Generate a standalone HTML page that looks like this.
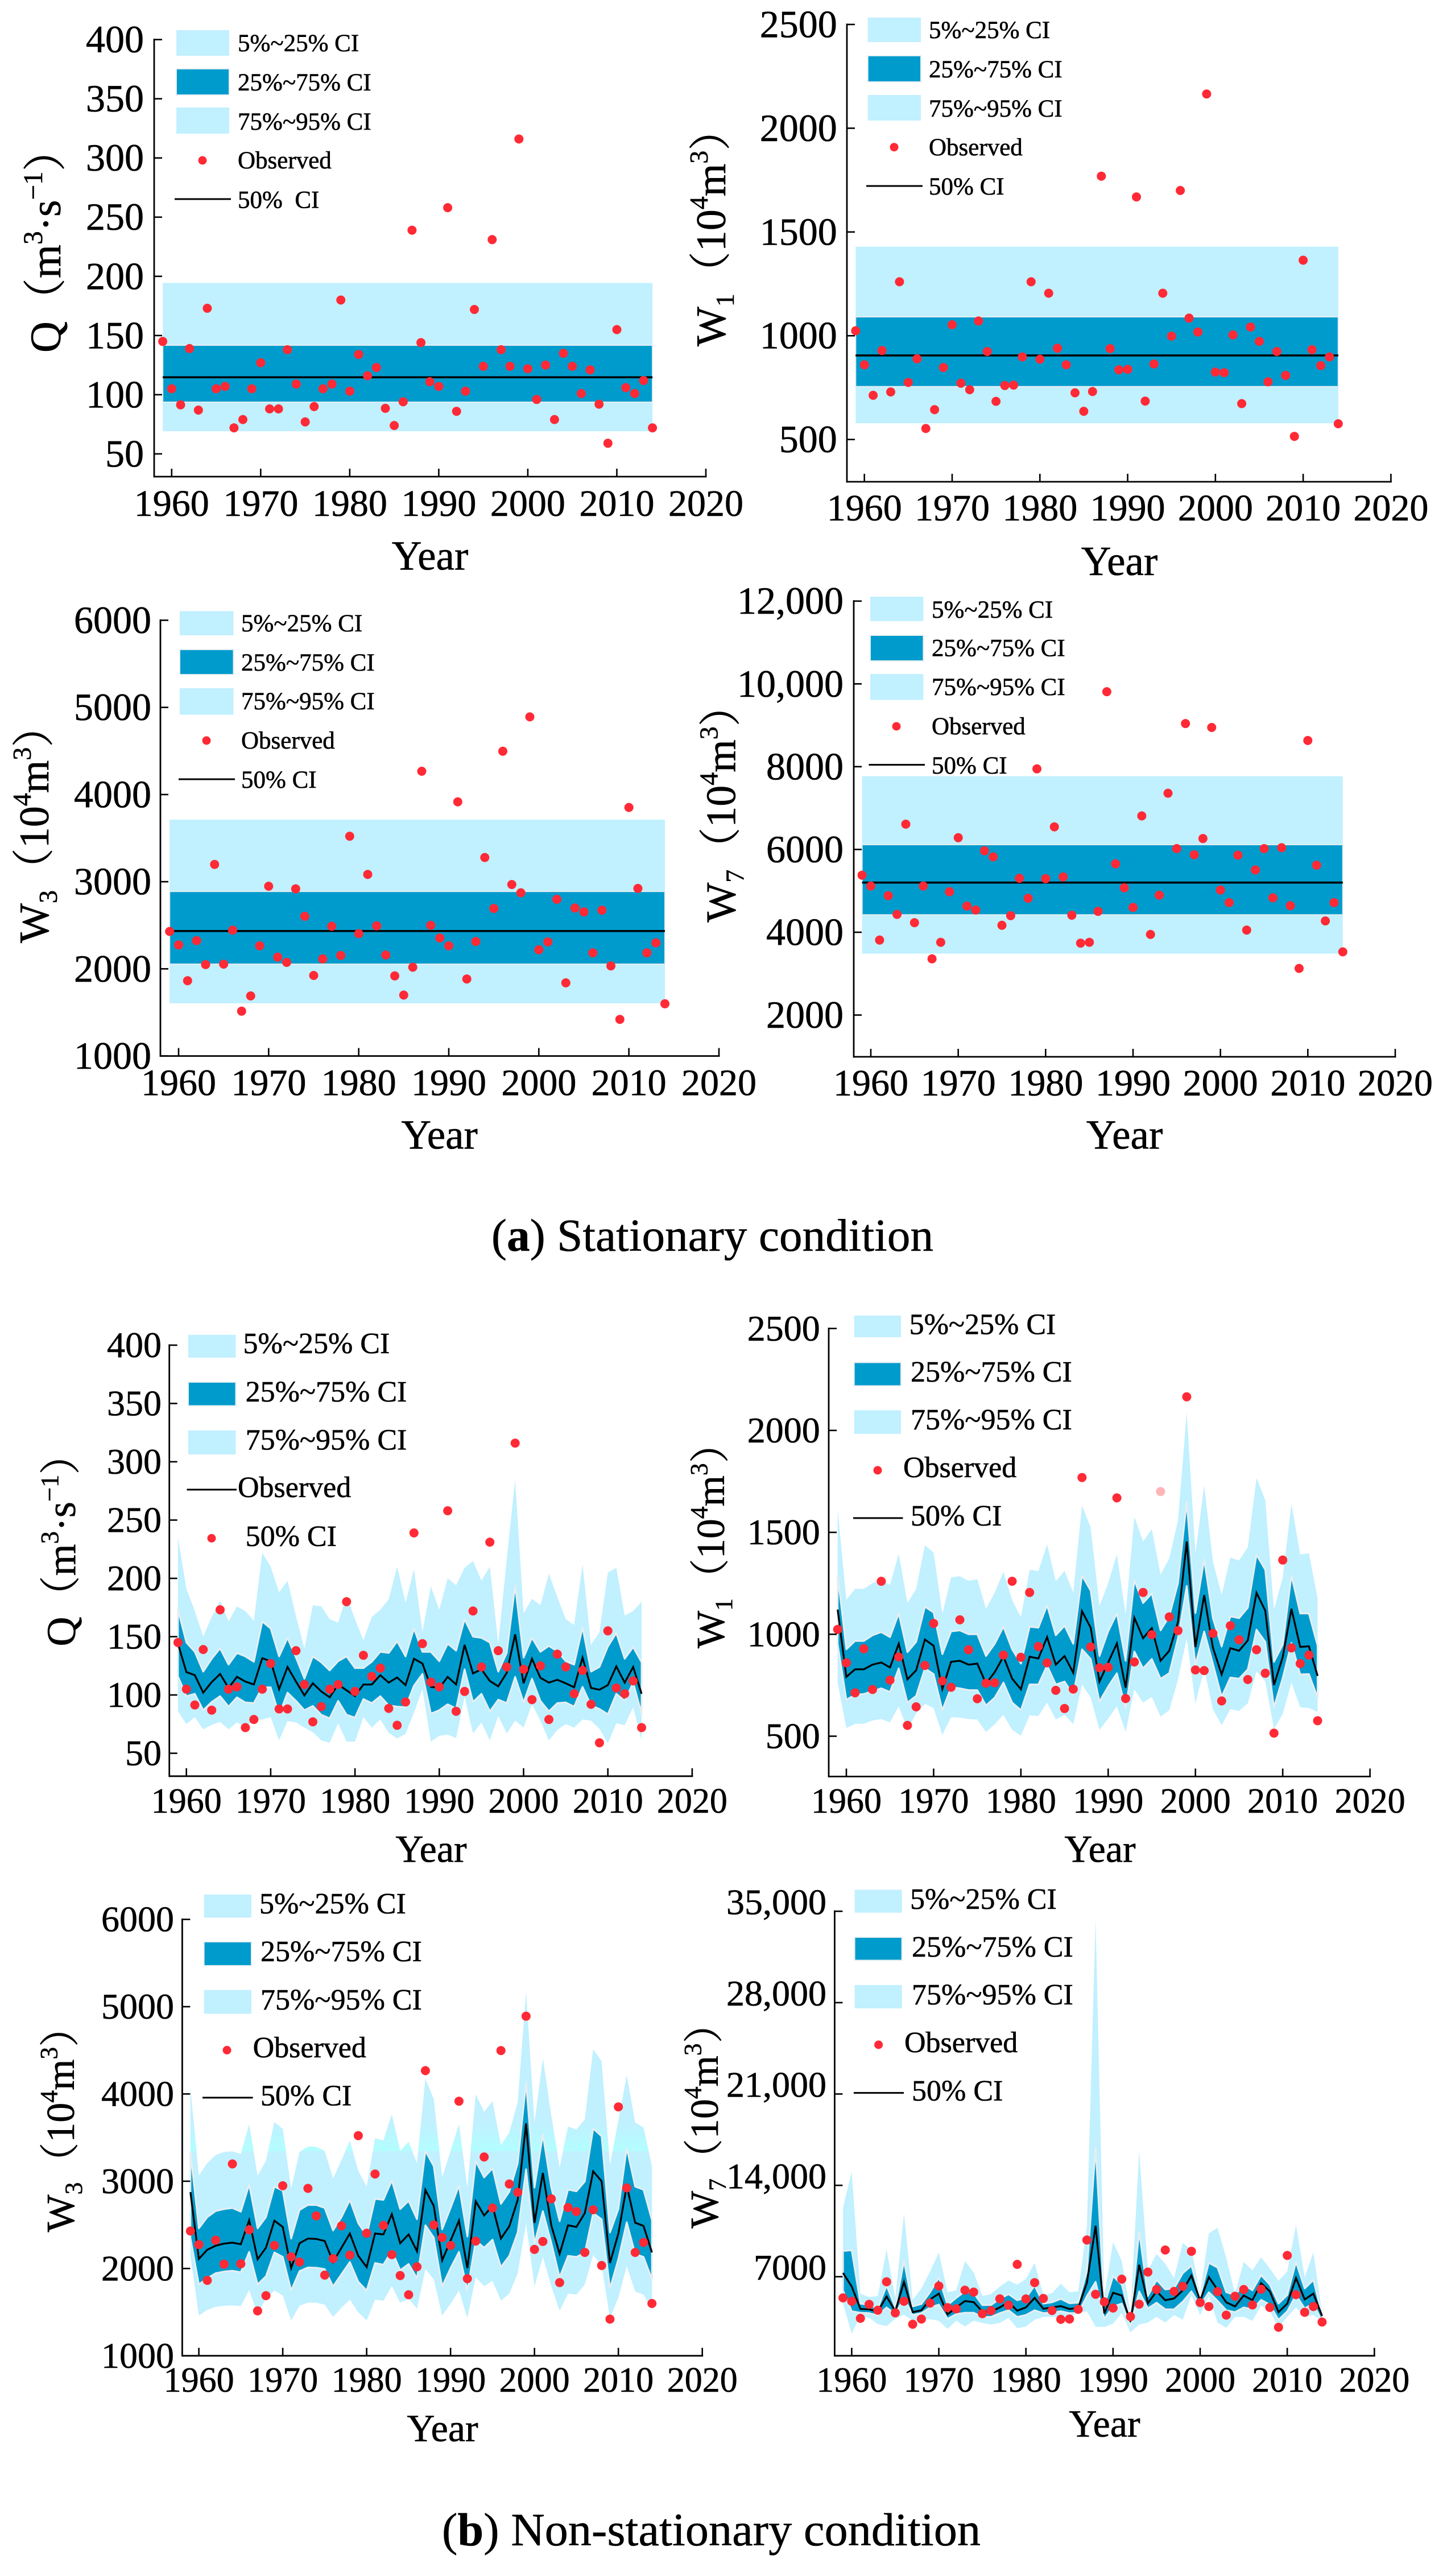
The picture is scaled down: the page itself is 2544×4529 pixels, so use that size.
<!DOCTYPE html>
<html lang="en">
<head>
<meta charset="utf-8">
<title>Stationary and non-stationary flood frequency confidence intervals</title>
<style>
html,body{margin:0;padding:0;background:#fff}
svg{display:block}
text{font-family:"Liberation Serif","Noto Serif CJK SC",serif;fill:#000;stroke:#000;stroke-width:0.6px}
</style>
</head>
<body>
<svg id="figure" xmlns="http://www.w3.org/2000/svg" width="2544" height="4529" viewBox="0 0 2544 4529">
  <rect x="0" y="0" width="2544" height="4529" fill="#ffffff"/>
  <defs>
    <linearGradient id="cyanGlow" x1="0" y1="0" x2="0" y2="1">
      <stop offset="0" stop-color="#c1f0ff"/>
      <stop offset="1" stop-color="#b2feff"/>
    </linearGradient>
  </defs>
  <text x="864" y="2199" font-size="81" textLength="777" lengthAdjust="spacing">(<tspan font-weight="bold">a</tspan>) Stationary condition</text>
  <text x="777" y="4475" font-size="82" textLength="947" lengthAdjust="spacing">(<tspan font-weight="bold">b</tspan>) Non-stationary condition</text>
</svg>
<script>
// ---------- categories ----------
const years = [1959,1960,1961,1962,1963,1964,1965,1966,1967,1968,
  1969,1970,1971,1972,1973,1974,1975,1976,1977,1978,
  1979,1980,1981,1982,1983,1984,1985,1986,1987,1988,
  1989,1990,1991,1992,1993,1994,1995,1996,1997,1998,
  1999,2000,2001,2002,2003,2004,2005,2006,2007,2008,
  2009,2010,2011,2012,2013,2014];

// ---------- observed series ----------
const obsQ = [145,105,91.4,139,87,173,105,107,72,79,
  105,127,88,88,138,109,77,90,105,109,
  180,103,134,116,123,88.5,74,94,239,144,
  111,107,258,86,103,172,124,231,138,124,
  316,122,96,125,79,135,124,101,121,92,
  59,155,106,101,112,72];
const obsW1 = [1024,860,713,929,729,1260,775,889,553,644,
  847,1053,771,740,1071,924,684,760,762,898,
  1260,887,1205,940,860,725,636,731,1769,938,
  836,838,1669,685,864,1205,998,1700,1085,1018,
  2165,825,822,1004,673,1042,973,778,924,809,
  515,1364,933,856,898,576];
const obsW3 = [2429,2274,1864,2324,2049,3198,2054,2444,1514,1689,
  2264,2948,2134,2074,2918,2603,1924,2114,2489,2154,
  3522,2404,3083,2494,2159,1919,1699,2019,4267,2499,
  2354,2264,3917,1884,2314,3278,2693,4497,2968,2873,
  4891,2219,2309,2798,1839,2698,2653,2184,2673,2034,
  1420,3852,2923,2184,2299,1599];
const obsW7 = [5379,5116,3811,4884,4432,6611,4232,5116,3358,3758,
  4979,6284,4632,4537,5968,5821,4168,4400,5305,4821,
  7947,5295,6547,5337,4411,3737,3758,4505,9811,5653,
  5074,4600,6811,3947,4895,7358,6021,9042,5874,6263,
  8947,5021,4716,5863,4053,5505,6021,4832,6042,4642,
  3126,8632,5621,4274,4716,3526];

// ---------- stationary quantiles: 5, 25, 50, 75, 95 ----------
const statQ = [69.1,93.7,114.7,141.8,194.4];
const statW1 = [578,755,905,1091,1429];
const statW3 = [1604,2054,2434,2888,3712];
const statW7 = [3484,4421,5200,6116,7768];

// ---------- non-stationary quantiles ----------
const nsQ5 = [86,75,81,70.5,74.4,77,70.5,76.5,72.4,78,
  79,81,61,77.6,76.5,72,68,61,59,75.7,
  60,60,81,72,79,67.5,62.7,66.7,85,105,
  60,65,66,63,98.5,67,76.5,61,82,67,
  78,72,92,78,61,70,75,72,79,78,
  71,58.6,75.7,74,89.5,61];
const nsQ25 = [116,99,101,87,94,99,90,98,93.6,93,
  106.6,106.6,83,102,95,87,90.6,83,80,95,
  83,80.6,96.5,93,99,91,90,89.5,108,118,
  84,87,92,88.4,122,94,101,86,96,93,
  115.5,93.6,114,95,86,93,93.6,90,107,91,
  88,83.5,101,95,110.6,84];
const nsQ50 = [144,119.6,117,102,111,118,106,115.5,111.5,109,
  131.5,129,105,124,111.5,99.6,110,103,98,109,
  104,99,109,109,117,110.6,115,108.5,131,127,
  107,106,115.5,109,143,118.5,122,112,107.4,119,
  152,110,131,114.7,110.6,113,110,106.6,132,106,
  104.5,108.5,124.5,110.6,124,101];
const nsQ75 = [173,145,137,120,131,140,126,136,133,128.5,
  163,157,133,149,132,114,133,128,121,129,
  133,123,123,128.5,137,136,146,133,157,137,
  137,129,144,138,165,150,149,145,120,136,
  193.5,132,149,137,142,137.5,129,126,158,120,
  124,141.5,153,131,141,128];
const nsQ95 = [235,191,172,150,167,181,163,176,172,163.5,
  222,210,188,198,167.5,140,177,176,165,162,
  185,165,147,167,173,182,210,179,208,154,
  193,173,200,194,209,215,198,210,144,216,
  285,170,182.5,177,204,184,165,160,212,143,
  154,205,209,168,172,180];

const nsW1p5 = [760,540,561,561,577,584,568,647,531,612,
  658,638,507,593,591,584,582,520,559,605,
  531,503,602,599,665,582,605,559,754,689,
  531,586,647,521,730,665,693,596,628,777,
  981,660,832,632,554,633,624,661,819,768,
  535,610,763,642,638,619];
const nsW1p25 = [953,679,703,707,721,735,717,833,665,698,
  833,805,628,740,735,726,726,651,689,763,
  665,628,754,754,847,754,768,703,926,879,
  670,744,809,637,916,833,879,782,809,981,
  1237,851,1014,856,693,788,782,828,1023,963,
  642,786,958,803,805,689];
const nsW1p50 = [1121,791,828,828,851,862,837,954,779,823,
  974,944,732,865,870,851,856,758,814,891,
  782,730,890,881,986,851,893,811,1113,1032,
  768,861,955,738,1081,981,1030,870,919,1060,
  1455,937,1192,935,803,932,919,970,1203,1116,
  751,888,1125,938,941,796];
const nsW1p75 = [1288,926,967,967,995,1011,986,1102,912,963,
  1135,1107,902,1014,1019,1000,1000,893,953,1037,
  926,856,1037,1032,1142,995,1042,953,1288,1214,
  893,1014,1102,870,1265,1153,1200,1019,1088,1250,
  1649,1104,1367,1079,940,1088,1079,1130,1390,1316,
  865,949,1288,1102,1102,944];
const nsW1p95 = [1612,1169,1223,1223,1251,1265,1242,1395,1153,1223,
  1437,1401,1100,1279,1285,1262,1270,1125,1204,1307,
  1167,1084,1316,1310,1441,1260,1311,1204,1631,1522,
  1139,1251,1392,1098,1576,1455,1516,1293,1372,1558,
  2088,1395,1731,1358,1193,1376,1362,1427,1767,1658,
  1121,1279,1640,1391,1398,1177];

const nsW3p5 = [2148,1461,1526,1561,1573,1578,1568,1753,1479,1655,
  1748,1690,1405,1573,1608,1608,1585,1445,1550,1643,
  1498,1405,1643,1631,1799,1608,1655,1538,1993,1876,
  1461,1596,1748,1433,1900,1799,1858,1631,1713,1946,
  2518,1795,2133,1795,1515,1713,1701,1818,2156,2040,
  1433,1666,2028,1736,1701,1526];
const nsW3p25 = [2350,1818,1888,1946,1965,1974,1958,2191,1818,1911,
  2184,2133,1748,1970,2012,2009,1993,1795,1935,2075,
  1848,1748,2063,2044,2203,1981,2051,1888,2495,2355,
  1795,2005,2191,1748,2320,2238,2331,2016,2145,2413,
  3137,2290,2658,2296,1900,2145,2133,2180,2635,2565,
  1771,2110,2530,2168,2133,1876];
const nsW3p50 = [2875,2110,2215,2261,2285,2296,2278,2553,2105,2238,
  2548,2476,2005,2289,2343,2338,2315,2075,2238,2401,
  2145,2016,2401,2390,2623,2289,2390,2198,2899,2717,
  2093,2320,2548,2005,2770,2607,2717,2343,2483,2786,
  3662,2523,3095,2495,2168,2495,2476,2635,3113,3001,
  2063,2401,2950,2525,2488,2184];
const nsW3p75 = [3335,2460,2588,2658,2681,2693,2651,2962,2460,2588,
  2938,2892,2343,2670,2728,2728,2693,2436,2588,2786,
  2518,2378,2798,2786,3008,2681,2775,2565,3347,3172,
  2448,2693,2950,2366,3230,3043,3148,2740,2880,3206,
  4128,2927,3533,2927,2541,2903,2885,2997,3603,3515,
  2413,2681,3381,2938,2903,2553];
const nsW3p95 = [4070,3067,3207,3300,3335,3342,3312,3650,3062,3235,
  3678,3599,2915,3335,3398,3393,3347,3031,3242,3463,
  3118,2938,3491,3468,3767,3347,3452,3207,4175,3942,
  3043,3347,3650,2927,3996,3795,3918,3412,3557,3907,
  5171,3673,4409,3755,3160,3627,3592,3709,4514,4374,
  3183,3697,4215,3673,3615,3172];

const nsW7p5 = [4937,2641,3992,3847,3368,3222,3774,4094,3629,3702,
  3745,3629,3004,3629,3193,3629,3455,3338,3455,3847,
  3048,3193,3702,3920,3920,3920,3920,4210,4356,3164,
  3149,3411,4210,2728,3338,3484,3920,3484,4065,3702,
  5591,4065,5518,3484,3077,3920,3920,3629,4791,4356,
  3120,3920,4646,3920,4065,3556];
const nsW7p25 = [5954,4356,4240,4210,4036,4646,4138,5373,4065,4210,
  4646,4864,3774,4138,4240,4240,3920,3920,4210,4428,
  3920,4065,4428,4210,4254,4356,4210,4210,5518,6608,
  3774,4719,4937,3193,5881,4573,5009,4501,4501,5082,
  5881,4792,5809,5155,4428,4283,4646,4501,5227,4864,
  3702,4356,5591,4573,4937,3556];
const nsW7p50 = [7290,6244,4530,4500,4327,5489,4356,6608,4283,4428,
  5256,5707,4109,4646,5140,5053,4327,4327,4646,5053,
  4399,4646,5373,4544,4646,4748,4530,4602,6535,10894,
  4181,5765,5562,3556,7915,4966,5881,5198,5329,5954,
  7087,5155,6971,5997,5038,4719,5562,5198,6506,5881,
  4283,4937,6898,5256,5707,3992];
const nsW7p75 = [8961,9034,4937,4835,4573,6317,4646,8206,4719,4908,
  5809,6942,4820,5373,5881,5736,4820,4835,5300,5663,
  5198,5373,6317,4937,5038,5300,4966,5009,7407,16880,
  4792,7044,6390,3774,10458,5518,6753,6026,6099,7262,
  7843,5518,8061,7697,5809,5591,6390,5954,7116,6390,
  4937,5591,8133,6099,6753,4065];
const nsW7p95 = [12301,15055,5692,5445,5518,9078,5373,11838,5227,6099,
  7407,8860,5809,5954,8206,7334,5518,5663,6244,6709,
  6390,6826,8061,5591,5736,6462,5809,5881,10855,34435,
  5518,9659,8206,4138,16639,7480,8744,7988,6898,9586,
  9078,5663,10312,10749,8446,5692,8133,7480,8497,7625,
  6680,7407,10967,6971,8860,4210];

// ---------- tick labels ----------
const xTicks = [1960,1970,1980,1990,2000,2010,2020];
const qTicks = [50,100,150,200,250,300,350,400];
const w1Ticks = [500,1000,1500,2000,2500];
const w3Ticks = [1000,2000,3000,4000,5000,6000];
const w7StatTicks = [2000,4000,6000,8000,10000,12000];
const w7StatTickLabels = ['2000','4000','6000','8000','10,000','12,000'];
const w7NsTicks = [7000,14000,21000,28000,35000];
const w7NsTickLabels = ['7000','14,000','21,000','28,000','35,000'];

// ---------- legend and title wording ----------
const legendBands = ['5%~25% CI','25%~75% CI','75%~95% CI'];
const labelObserved = 'Observed';
const labelMedian = '50% CI';
const labelMedianWide = '50%\u00a0 CI';
const labelYear = 'Year';
const titleQ = [['Q'],['（m'],['3','sup'],['·s'],['−1','sup'],['）']];
const titleW1 = [['W'],['1','sub'],['（10'],['4','sup'],['m'],['3','sup'],['）']];
const titleW3 = [['W'],['3','sub'],['（10'],['4','sup'],['m'],['3','sup'],['）']];
const titleW7 = [['W'],['7','sub'],['（10'],['4','sup'],['m'],['3','sup'],['）']];

// ---------- colours ----------
const LIGHT = '#c1f0ff';
const DARK = '#009bcd';
const EDGE = '#e6eef1';
const RED = '#ff2a35';

// ---------- layout of the eight panels (pixels only, no chart values) ----------
const panels = [
 {key:'q-stationary',axisX:271,bottom:838,x1960:301.8,x2020:1241,yA:[400,69.6],yB:[50,798],
  ticks:qTicks,tickLabels:null,tickRight:253,tickFs:68,xBase:907,xFs:66,yearX:756,yearY:1001.5,yearFs:73,
  title:titleQ,titleX:106,titleY:620,titleFs:76,obs:obsQ,stat:statQ,
  legFs:43,swX:[310,403],rows:[[53,98],[121,167],[189,235]],dot:[356,282,7.5],line:[307,406,350],
  labels:[[418,76,legendBands[0]],[418,145,legendBands[1]],[418,213.6,legendBands[2]],[418,282,labelObserved],[418,351.5,labelMedianWide]]},
 {key:'w1-stationary',axisX:1489,bottom:847,x1960:1519.7,x2020:2445.4,yA:[2500,43],yB:[500,772.7],
  ticks:w1Ticks,tickLabels:null,tickRight:1471.7,tickFs:68,xBase:915,xFs:66,yearX:1968,yearY:1011,yearFs:73,
  title:titleW1,titleX:1275,titleY:609,titleFs:74,obs:obsW1,stat:statW1,
  legFs:43,swX:[1525.7,1619],rows:[[31,74],[98,144],[167,212]],dot:[1572,258.7,7.5],line:[1523,1622,327],
  labels:[[1633,53,legendBands[0]],[1633,122,legendBands[1]],[1633,191,legendBands[2]],[1633,259,labelObserved],[1633,328,labelMedian]]},
 {key:'w3-stationary',axisX:282,bottom:1856.6,x1960:314,x2020:1264,yA:[6000,1090.5],yB:[1000,1856.6],
  ticks:w3Ticks,tickLabels:null,tickRight:266,tickFs:68,xBase:1925.4,xFs:66,yearX:772.6,yearY:2019.6,yearFs:73,
  title:titleW3,titleX:85,titleY:1658,titleFs:74,obs:obsW3,stat:statW3,
  legFs:43,swX:[316,410.5],rows:[[1074.4,1117],[1142,1186],[1210,1256.6]],dot:[363,1302,7.5],line:[314,413,1370],
  labels:[[424,1096,legendBands[0]],[424,1165,legendBands[1]],[424,1233,legendBands[2]],[424,1302,labelObserved],[424,1370.6,labelMedian]]},
 {key:'w7-stationary',axisX:1501,bottom:1858,x1960:1531,x2020:2453,yA:[12000,1056.8],yB:[2000,1784.6],
  ticks:w7StatTicks,tickLabels:w7StatTickLabels,tickRight:1483,tickFs:68,xBase:1926,xFs:66,yearX:1977,yearY:2019.6,yearFs:73,
  title:titleW7,titleX:1292.6,titleY:1621.6,titleFs:74,obs:obsW7,stat:statW7,
  legFs:43,swX:[1530,1623.4],rows:[[1049,1092],[1117,1162],[1185,1230.6]],dot:[1576,1277,7.5],line:[1527.4,1626,1344.6],
  labels:[[1638,1072,legendBands[0]],[1638,1139.5,legendBands[1]],[1638,1208,legendBands[2]],[1638,1277,labelObserved],[1638,1346,labelMedian]]},
 {key:'q-non-stationary',axisX:297.7,bottom:3122.8,x1960:327.7,x2020:1216.9,yA:[400,2365],yB:[50,3082.5],
  ticks:qTicks,tickLabels:null,tickRight:284,tickFs:64,xBase:3187,xFs:62,yearX:758,yearY:3273.7,yearFs:68,
  title:titleQ,titleX:132,titleY:2894.5,titleFs:72,obs:obsQ,ns:[nsQ5,nsQ25,nsQ50,nsQ75,nsQ95],
  legFs:52,swX:[331,414.5],rows:[[2346.8,2387],[2430,2471.6],[2515,2557]],dot:[372,2704.5,7.5],line:[328.5,416,2619],
  labels:[[427.5,2362,legendBands[0]],[431.6,2447,legendBands[1]],[431.6,2531.5,legendBands[2]],[418,2615,labelObserved],[431.6,2700.6,labelMedian]]},
 {key:'w1-non-stationary',axisX:1457,bottom:3123.4,x1960:1488,x2020:2408.6,yA:[2500,2335.7],yB:[500,3052.5],
  ticks:w1Ticks,tickLabels:null,tickRight:1441.7,tickFs:64,xBase:3187,xFs:62,yearX:1934,yearY:3273.7,yearFs:68,
  title:titleW1,titleX:1273,titleY:2898,titleFs:70,obs:obsW1,ns:[nsW1p5,nsW1p25,nsW1p50,nsW1p75,nsW1p95],fadedYear:1996,
  legFs:52,swX:[1501.7,1584],rows:[[2313,2351],[2395.5,2436.5],[2479.5,2521]],dot:[1543,2585,7.5],line:[1500,1587.4,2669],
  labels:[[1598.6,2328.5,legendBands[0]],[1601,2412,legendBands[1]],[1601,2495.7,legendBands[2]],[1588,2580,labelObserved],[1601,2665,labelMedian]]},
 {key:'w3-non-stationary',axisX:320.4,bottom:4141.8,x1960:349.6,x2020:1234.7,yA:[6000,3374.6],yB:[1000,4141.8],
  ticks:w3Ticks,tickLabels:null,tickRight:306,tickFs:64,xBase:4205,xFs:62,yearX:778,yearY:4292,yearFs:68,
  title:titleW3,titleX:130,titleY:3924.5,titleFs:70,obs:obsW3,ns:[nsW3p5,nsW3p25,nsW3p50,nsW3p75,nsW3p95],glow:[3677,3344],
  legFs:52,swX:[358.6,442],rows:[[3331,3371.4],[3414,3456],[3498.6,3540.5]],dot:[399,3604.5,7.5],line:[356,444.6,3688],
  labels:[[456,3347,legendBands[0]],[458,3430.7,legendBands[1]],[458,3516,legendBands[2]],[444.6,3600,labelObserved],[458,3684.3,labelMedian]]},
 {key:'w7-non-stationary',axisX:1467.4,bottom:4141.8,x1960:1497.4,x2020:2416.3,yA:[35000,3360.3],yB:[7000,4002.8],
  ticks:w7NsTicks,tickLabels:w7NsTickLabels,tickRight:1453,tickFs:64,tickLift:16,xBase:4205,xFs:62,yearX:1942,yearY:4284,yearFs:68,
  title:titleW7,titleX:1262,titleY:3918,titleFs:70,obs:obsW7,ns:[nsW7p5,nsW7p25,nsW7p50,nsW7p75,nsW7p95],
  legFs:52,swX:[1502.6,1585.7],rows:[[3322.4,3362.7],[3406,3446.5],[3490,3531]],dot:[1544.6,3595,7.5],line:[1500.9,1589,3679.6],
  labels:[[1600,3339,legendBands[0]],[1603,3422.8,legendBands[1]],[1603,3507,legendBands[2]],[1590,3591,labelObserved],[1603,3675.6,labelMedian]]}
];

const NS = 'http://www.w3.org/2000/svg';
const root = document.getElementById('figure');

function make(tag, attrs, parent){
  const el = document.createElementNS(NS, tag);
  for (const k in attrs) el.setAttribute(k, attrs[k]);
  parent.appendChild(el);
  return el;
}

function bandPoints(xs, lower, upper, X, Y){
  const top = xs.map((yr,i)=>X(yr).toFixed(1)+','+Y(upper[i]).toFixed(1));
  const bot = xs.map((yr,i)=>X(yr).toFixed(1)+','+Y(lower[i]).toFixed(1)).reverse();
  return top.concat(bot).join(' ');
}

function drawTitle(p, g){
  const t = make('text',{transform:'translate('+p.titleX+','+p.titleY+') rotate(-90)','font-size':p.titleFs},g);
  
  
  let offset = 0;
  p.title.forEach(part=>{
    const span = make('tspan',{},t);
    span.textContent = part[0];
    const kind = part[1];
    let want = 0, fs = p.titleFs;
    if (kind === 'sup'){ want = -0.42*p.titleFs; fs = p.titleFs*0.62; }
    if (kind === 'sub'){ want = 0.2*p.titleFs; fs = p.titleFs*0.62; }
    span.setAttribute('font-size', fs);
    span.setAttribute('dy', want - offset);
    offset = want;
  });
}

panels.forEach(p=>{
  const X = yr => p.x1960 + (yr-1960)*(p.x2020-p.x1960)/60;
  const Y = v => p.yA[1] + (v-p.yA[0])*(p.yB[1]-p.yA[1])/(p.yB[0]-p.yA[0]);

  const g = make('g',{},root);
  
  

  const first = years[0], last = years[years.length-1];

  if (p.stat){
    const s = p.stat;
    const low = make('rect',{x:X(first),y:Y(s[4]),width:X(last)-X(first),height:Y(s[0])-Y(s[4]),fill:LIGHT},g);
    
    
    const mid = make('rect',{x:X(first),y:Y(s[3]),width:X(last)-X(first),height:Y(s[1])-Y(s[3]),fill:DARK,stroke:EDGE,'stroke-width':2},g);
    
    
    const med = make('line',{x1:X(first),x2:X(last),y1:Y(s[2]),y2:Y(s[2]),stroke:'#000','stroke-width':3.6},g);
    
    
  } else {
    const q = p.ns;
    const outer = make('polygon',{points:bandPoints(years,q[0],q[4],X,Y),fill:LIGHT},g);
    
    
    if (p.glow){
      const clipId = 'clip-'+p.key;
      const clip = make('clipPath',{id:clipId},g);
      make('polygon',{points:bandPoints(years,q[0],q[4],X,Y)},clip);
      const glow = make('rect',{x:X(first),y:Y(p.glow[0]),width:X(last)-X(first),height:Y(p.glow[1])-Y(p.glow[0]),fill:'url(#cyanGlow)','clip-path':'url(#'+clipId+')'},g);
      
      
    }
    const inner = make('polygon',{points:bandPoints(years,q[1],q[3],X,Y),fill:DARK,stroke:EDGE,'stroke-width':3,'stroke-linejoin':'round'},g);
    
    
    const med = make('polyline',{points:years.map((yr,i)=>X(yr).toFixed(1)+','+Y(q[2][i]).toFixed(1)).join(' '),fill:'none',stroke:'#000','stroke-width':3.2,'stroke-linejoin':'miter'},g);
    
    
  }

  years.forEach((yr,i)=>{
    const c = make('circle',{cx:X(yr).toFixed(1),cy:Y(p.obs[i]).toFixed(1),r:8,fill:RED},g);
    if (p.fadedYear === yr) c.setAttribute('fill-opacity', '0.35');
    
    
  });

  // axes
  const yAxis = make('line',{x1:p.axisX,x2:p.axisX,y1:Y(p.ticks[p.ticks.length-1])-1.5,y2:p.bottom+1.5,stroke:'#000','stroke-width':2.8},g);
  
  
  const xAxis = make('line',{x1:p.axisX,x2:X(2020)+1.5,y1:p.bottom,y2:p.bottom,stroke:'#000','stroke-width':2.8},g);
  
  

  const lift = p.tickLift || 0;
  p.ticks.forEach((v,i)=>{
    const tk = make('line',{x1:p.axisX,x2:p.axisX+14,y1:Y(v),y2:Y(v),stroke:'#000','stroke-width':2.6},g);
    
    
    const lb = make('text',{x:p.tickRight,y:Y(v)+0.33*p.tickFs-lift,'text-anchor':'end','font-size':p.tickFs},g);
    lb.textContent = p.tickLabels ? p.tickLabels[i] : String(v);
    
    
  });
  xTicks.forEach(v=>{
    const tk = make('line',{x1:X(v),x2:X(v),y1:p.bottom,y2:p.bottom-14,stroke:'#000','stroke-width':2.6},g);
    
    
    const lb = make('text',{x:X(v),y:p.xBase,'text-anchor':'middle','font-size':p.xFs},g);
    lb.textContent = String(v);
    
    
  });

  const yr = make('text',{x:p.yearX,y:p.yearY,'text-anchor':'middle','font-size':p.yearFs},g);
  yr.textContent = labelYear;
  
  

  drawTitle(p, g);

  // legend
  const leg = make('g',{},g);
  
  
  p.rows.forEach((r,i)=>{
    const sw = make('rect',{x:p.swX[0],y:r[0],width:p.swX[1]-p.swX[0],height:r[1]-r[0],fill:i===1?DARK:LIGHT},leg);
    if (i===1){ sw.setAttribute('stroke', EDGE); sw.setAttribute('stroke-width', '2'); }
    
    
  });
  const ld = make('circle',{cx:p.dot[0],cy:p.dot[1],r:p.dot[2],fill:RED},leg);
  
  
  const ll = make('line',{x1:p.line[0],x2:p.line[1],y1:p.line[2],y2:p.line[2],stroke:'#000','stroke-width':3},leg);
  
  
  p.labels.forEach(l=>{
    const t = make('text',{x:l[0],y:l[1]+0.33*p.legFs,'font-size':p.legFs},leg);
    t.textContent = l[2];
    
    
  });
});
</script>
</body>
</html>
